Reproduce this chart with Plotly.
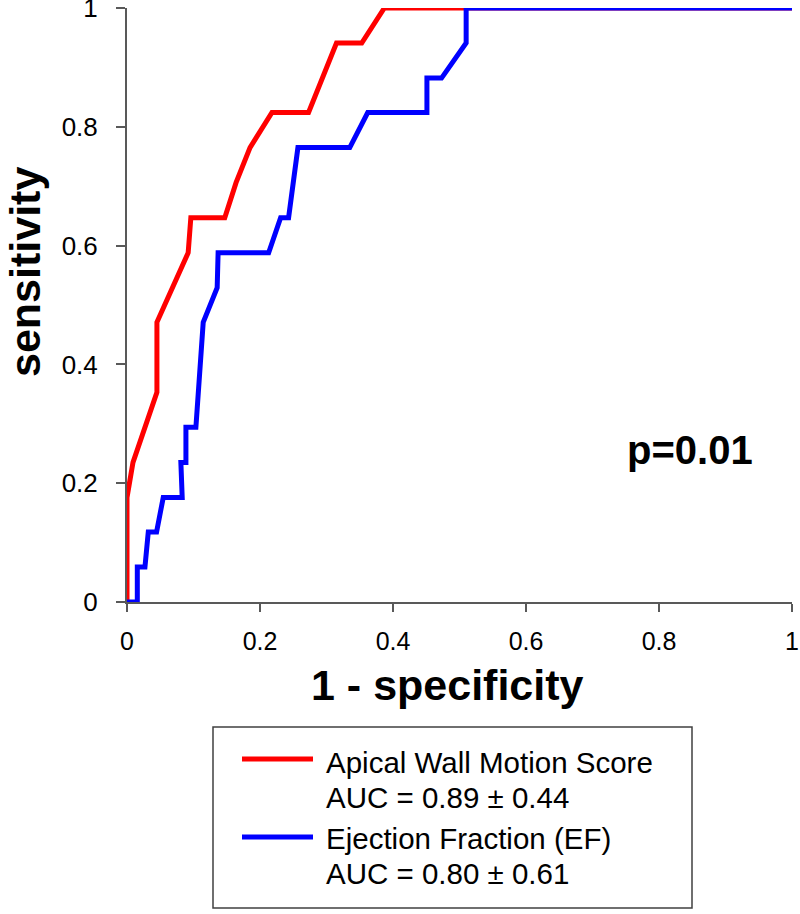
import plotly.graph_objects as go

# ---- data ----
awms_fpr = [0, 0, 0.009, 0.045, 0.045, 0.092, 0.096, 0.147, 0.164, 0.185, 0.218, 0.273, 0.315, 0.353, 0.387, 1.0]
awms_sens = [0, 0.176, 0.235, 0.353, 0.471, 0.588, 0.647, 0.647, 0.706, 0.765, 0.824, 0.824, 0.941, 0.941, 1.0, 1.0]

ef_fpr = [0, 0.0155, 0.0155, 0.027, 0.032, 0.0445, 0.0545, 0.083, 0.081, 0.0886, 0.0886, 0.1036, 0.1146, 0.1356,
          0.137, 0.213, 0.231, 0.243, 0.257, 0.335, 0.362, 0.451, 0.451, 0.473, 0.510, 0.510, 1.0]
ef_sens = [0, 0, 0.059, 0.059, 0.118, 0.118, 0.176, 0.176, 0.235, 0.235, 0.294, 0.294, 0.471, 0.529,
           0.588, 0.588, 0.647, 0.647, 0.765, 0.765, 0.824, 0.824, 0.882, 0.882, 0.941, 1.0, 1.0]

tick_vals = [0, 0.2, 0.4, 0.6, 0.8, 1]
tick_text = ["0", "0.2", "0.4", "0.6", "0.8", "1"]

series_names = ["Apical Wall Motion Score", "Ejection Fraction (EF)"]
auc_labels = ["AUC = 0.89 ± 0.44", "AUC = 0.80 ± 0.61"]
series_colors = ["#FF0000", "#0000FF"]
p_label = "p=0.01"
p_pos = (0.847, 0.256)

fig = go.Figure()
fig.add_trace(go.Scatter(x=awms_fpr, y=awms_sens, mode="lines", name=series_names[0],
                         line=dict(color=series_colors[0], width=5), showlegend=False))
fig.add_trace(go.Scatter(x=ef_fpr, y=ef_sens, mode="lines", name=series_names[1],
                         line=dict(color=series_colors[1], width=5), showlegend=False))

axis_col = "#595959"
fig.update_layout(
    width=800, height=914,
    margin=dict(l=127, r=8, t=8, b=312, autoexpand=False),
    paper_bgcolor="white", plot_bgcolor="white",
    font=dict(family="Liberation Sans, Arial, sans-serif", color="black"),
    xaxis=dict(range=[0, 1], tickvals=tick_vals, ticktext=tick_text, showgrid=False, zeroline=False,
               showline=True, linecolor=axis_col, linewidth=2, ticks="outside", ticklen=8,
               tickwidth=2, tickcolor=axis_col, ticklabelstandoff=8, automargin=False,
               ticklabeloverflow="allow",
               tickfont=dict(family="Liberation Sans, Arial", size=25, color="black")),
    yaxis=dict(range=[0, 1], tickvals=tick_vals, ticktext=tick_text, showgrid=False, zeroline=False,
               showline=True, linecolor=axis_col, linewidth=2, ticks="outside", ticklen=9,
               tickwidth=2, tickcolor=axis_col, ticklabelstandoff=13, automargin=False,
               ticklabeloverflow="allow",
               tickfont=dict(family="Liberation Sans, Arial", size=26, color="black")),
)

def py(pix):
    return (602 - pix) / 594

def px(pix):
    return (pix - 127) / 665

annots = [
    dict(text="<b>sensitivity</b>", x=px(25), y=py(272), xref="paper", yref="paper", textangle=-90,
         showarrow=False, font=dict(size=43), xanchor="center", yanchor="middle"),
    dict(text="<b>1 - specificity</b>", x=px(447), y=py(685), xref="paper", yref="paper",
         showarrow=False, font=dict(size=43), xanchor="center", yanchor="middle"),
    dict(text="<b>" + p_label + "</b>", x=p_pos[0], y=p_pos[1], xref="x", yref="y",
         showarrow=False, font=dict(size=40), xanchor="center", yanchor="middle"),
]
# legend (drawn manually)
row_y = [(762, 797), (838, 873)]
line_y = [759, 837]
shapes = [dict(type="rect", xref="paper", yref="paper", x0=px(213), x1=px(692), y0=py(908), y1=py(727),
               line=dict(color="#404040", width=1.5), fillcolor="white", layer="above")]
for i in range(2):
    shapes.append(dict(type="line", xref="paper", yref="paper", x0=px(242), x1=px(313),
                       y0=py(line_y[i]), y1=py(line_y[i]), line=dict(color=series_colors[i], width=5)))
    annots.append(dict(text=series_names[i], x=px(324), y=py(row_y[i][0]), xref="paper", yref="paper",
                       showarrow=False, font=dict(size=29.5), xanchor="left", yanchor="middle"))
    annots.append(dict(text=auc_labels[i], x=px(324), y=py(row_y[i][1]), xref="paper", yref="paper",
                       showarrow=False, font=dict(size=29.5), xanchor="left", yanchor="middle"))

fig.update_layout(annotations=annots, shapes=shapes)
fig.write_html("out.html", config={"displayModeBar": False},
               post_script="document.body.style.margin='0px';document.body.style.padding='0px';")
